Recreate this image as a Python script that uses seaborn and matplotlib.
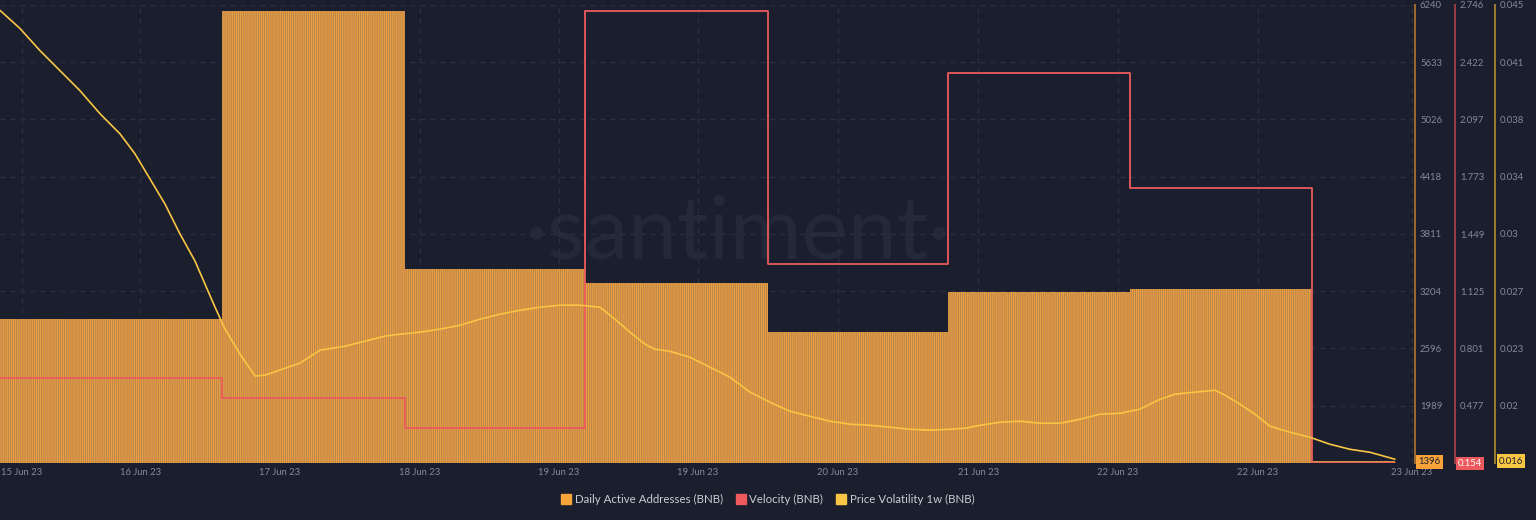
import numpy as np
import matplotlib
matplotlib.use("Agg")
import matplotlib.pyplot as plt
from matplotlib.lines import Line2D
import seaborn as sns

# ---------------- data ----------------
day_start_h = [0.0, 29.3, 53.4, 77.2, 101.3, 125.0, 149.0, 173.0]
data_end_h = 184.0
daa_values = [2907, 6176, 3439, 3290, 2768, 3194, 3226, 1396]
velocity_values = [0.634, 0.520, 0.351, 2.714, 1.279, 2.361, 1.710, 0.154]

vol_hours = [0, 2.64, 5.27, 7.91, 10.55, 13.19, 15.82, 17.80, 19.78, 21.76, 23.74,
             25.71, 27.03, 28.35, 29.67, 31.65, 33.63, 34.95, 36.92, 39.56, 42.20,
             45.49, 48.13, 50.77, 52.75, 55.38, 58.02, 60.66, 63.30, 65.93, 68.57,
             71.21, 73.85, 76.48, 79.12, 81.10, 83.08, 85.05, 86.37, 88.35, 90.99,
             93.63, 96.26, 98.90, 101.54, 104.18, 106.81, 109.45, 112.09, 114.73,
             117.36, 120.00, 122.64, 125.27, 127.25, 129.23, 131.87, 134.51, 137.14,
             139.78, 142.42, 145.05, 147.69, 150.33, 152.97, 154.95, 157.58, 160.22,
             161.54, 163.52, 165.49, 167.47, 170.11, 172.75, 175.38, 178.02, 180.66,
             183.96]
vol_values = [0.04466, 0.04351, 0.04211, 0.04084, 0.03957, 0.03811, 0.03684, 0.03557,
              0.03398, 0.03239, 0.03049, 0.02878, 0.02732, 0.02586, 0.02447, 0.02288,
              0.02149, 0.02155, 0.02187, 0.02231, 0.02313, 0.02338, 0.02370, 0.02402,
              0.02414, 0.02427, 0.02446, 0.02471, 0.02509, 0.02541, 0.02566, 0.02585,
              0.02598, 0.02598, 0.02585, 0.02509, 0.02427, 0.02351, 0.02319, 0.02306,
              0.02268, 0.02205, 0.02142, 0.02047, 0.01983, 0.01926, 0.01894, 0.01863,
              0.01844, 0.01837, 0.01825, 0.01812, 0.01806, 0.01812, 0.01818, 0.01837,
              0.01856, 0.01863, 0.01850, 0.01850, 0.01875, 0.01907, 0.01913, 0.01939,
              0.02002, 0.02034, 0.02047, 0.02059, 0.02028, 0.01971, 0.01907, 0.01831,
              0.01793, 0.01761, 0.01717, 0.01685, 0.01666, 0.01622]

xtick_hours = [2.9, 18.5, 36.9, 55.4, 73.7, 92.0, 110.5, 129.0, 147.4, 165.9, 186.2]
xtick_labels = ["15 Jun 23", "16 Jun 23", "17 Jun 23", "18 Jun 23", "19 Jun 23",
                "19 Jun 23", "20 Jun 23", "21 Jun 23", "22 Jun 23", "22 Jun 23",
                "23 Jun 23"]
daa_ticks = [1989, 2596, 3204, 3811, 4418, 5026, 5633, 6240]
vel_ticks = [0.477, 0.801, 1.125, 1.449, 1.773, 2.097, 2.422, 2.746]
vol_tick_labels = ["0.02", "0.023", "0.027", "0.03", "0.034", "0.038", "0.041", "0.045"]
series_names = ["Daily Active Addresses (BNB)", "Velocity (BNB)", "Price Volatility 1w (BNB)"]
last_labels = ["1396", "0.154", "0.016"]

# ---------------- style ----------------
BG = "#1a1e2d"
ORANGE = "#f7a33a"
ORANGE_DARK = "#b98650"
RED = "#ec5a5e"
YELLOW = "#f8c545"
TICK = "#858a9b"
GRID = "#2b3041"

sns.set_theme(style="dark")
plt.rcParams["font.family"] = ["Lato", "DejaVu Sans"]
plt.rcParams["hatch.linewidth"] = 0.65
plt.rcParams["hatch.color"] = ORANGE

fig = plt.figure(figsize=(15.36, 5.2), dpi=100, facecolor=BG)
ax = fig.add_axes([0.0, 0.1102, 1415 / 1536, 0.8802])
ax.set_facecolor(BG)
ax2 = ax.twinx()
ax3 = ax.twinx()
for a in (ax2, ax3):
    a.patch.set_visible(False)

# watermark
ax.text(0.521, 0.50, "·santiment·", transform=ax.transAxes, ha="center", va="center",
        fontsize=63, color="#242939", fontweight="normal", zorder=0,
        family=["Lato", "DejaVu Sans"])

# bars (Daily Active Addresses)
edges = day_start_h + [data_end_h]
widths = np.diff(edges)
ax.bar(day_start_h, daa_values, width=widths, align="edge", color=ORANGE_DARK,
       edgecolor=ORANGE, linewidth=0, hatch="||||||||", zorder=2)

# velocity step line
sns.lineplot(x=edges, y=velocity_values + [velocity_values[-1]], ax=ax2, color=RED,
             linewidth=1.3, drawstyle="steps-post", legend=False, sort=False)
# volatility line
sns.lineplot(x=vol_hours, y=vol_values, ax=ax3, color=YELLOW, linewidth=1.2,
             legend=False, sort=False)

for a in (ax, ax2, ax3):
    a.set_xlabel("")
    a.set_ylabel("")
    a.set_xlim(0, 186.6)

ax.set_ylim(1382, 6240)
ax2.set_ylim(0.154, 2.746)
ax3.set_ylim(0.016, 0.045)

# grid
ax.set_axisbelow(True)
ax.set_yticks(daa_ticks)
ax.set_xticks(xtick_hours)
ax.set_xticklabels(xtick_labels)
ax.grid(True, axis="both", color=GRID, linestyle=(0, (4, 4)), linewidth=0.9)
ax2.grid(False)
ax3.grid(False)

ax.yaxis.tick_right()
ax.tick_params(axis="y", colors=TICK, labelsize=6.8, length=0, pad=3.6)
ax.tick_params(axis="x", colors=TICK, labelsize=6.8, length=0, pad=4)
ax2.set_yticks(vel_ticks)
ax2.set_yticklabels([f"{v:.3f}" for v in vel_ticks])
ax2.tick_params(axis="y", colors=TICK, labelsize=6.8, length=0, pad=3.6)
vol_ticks = np.linspace(0.016, 0.045, 9)[1:]
ax3.set_yticks(vol_ticks)
ax3.set_yticklabels(vol_tick_labels)
ax3.tick_params(axis="y", colors=TICK, labelsize=6.8, length=0, pad=3.6)

for a in (ax, ax2, ax3):
    for s in ("left", "top", "bottom"):
        a.spines[s].set_visible(False)
ax.spines["right"].set_color("#a06a2f")
ax.spines["right"].set_linewidth(1.4)
ax2.spines["right"].set_position(("outward", 28.8))
ax2.spines["right"].set_color("#9a3a42")
ax2.spines["right"].set_linewidth(1.4)
ax3.spines["right"].set_position(("outward", 57.6))
ax3.spines["right"].set_color("#9c7c2f")
ax3.spines["right"].set_linewidth(1.4)

# last-value boxes
box_specs = [(1429.5, 462, ORANGE, "#1a1e2d"), (1470, 463.5, RED, "white"),
             (1511, 461, YELLOW, "#1a1e2d")]
for (px, py, bg, fg), lab in zip(box_specs, last_labels):
    fig.text(px / 1536, 1 - py / 520, lab, ha="center", va="center", fontsize=6.8,
             color=fg, bbox=dict(boxstyle="square,pad=0.25", fc=bg, ec="none"))

# legend
handles = [Line2D([], [], marker="s", linestyle="", markersize=6.5, color=c)
           for c in (ORANGE, RED, YELLOW)]
fig.legend(handles, series_names, loc="center", bbox_to_anchor=(0.5, 0.04), ncol=3,
           frameon=False, fontsize=8.3, labelcolor="#c9ccd6", handlelength=0.8,
           handletextpad=0.3, columnspacing=1.2)

fig.savefig("out.png", dpi=100, facecolor=BG)
